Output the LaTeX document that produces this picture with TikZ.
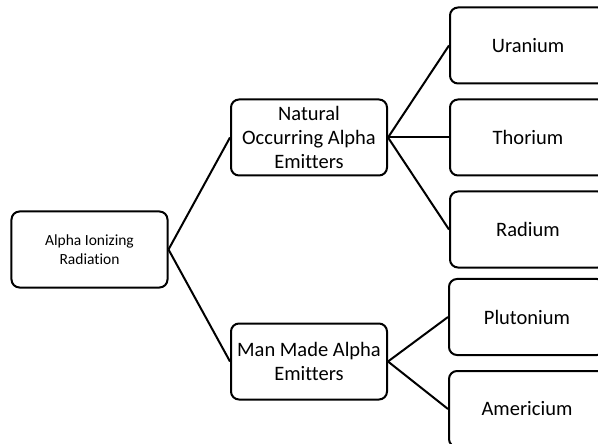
\documentclass[tikz,border=0pt]{standalone}
\usepackage{fontspec}
\setmainfont{Carlito}[Ligatures=CommonOff]
\usetikzlibrary{positioning}

\begin{document}
\begin{tikzpicture}[x=1bp,y=-1bp,
            boite/.style={draw=black, line width=2bp, rounded corners=8bp,
                minimum width=156bp, minimum height=76bp, align=center, inner sep=1bp},
            racine/.style={boite, font=\fontsize{15.5bp}{19bp}\selectfont},
            feuille/.style={boite, font=\fontsize{20.5bp}{24bp}\selectfont},
            lien/.style={draw=black, line width=2bp},
        ]
        \useasboundingbox (0,0) rectangle (598,444);
        % root and the two families
        \node[racine] (alpha) at (89.5,249.5) {Alpha Ionizing\\Radiation};
        \node[feuille] (nat) at (309,137.5) {Natural\\Occurring Alpha\\Emitters};
        \node[feuille] (man) at (309,361.5) {Man Made Alpha\\Emitters};
        % elements
        \node[feuille, right=61bp of nat] (tho) {Thorium};
        \node[feuille, above=14bp of tho] (ura) {Uranium};
        \node[feuille, below=14bp of tho] (rad) {Radium};
        \node[feuille] (plu) at (527,317) {Plutonium};
        \node[feuille, below=14bp of plu] (ame) {Americium};
        \draw[lien] (alpha.east) -- (nat.west);
        \draw[lien] (alpha.east) -- (man.west);
        \draw[lien] (nat.east) -- (ura.west);
        \draw[lien] (nat.east) -- (tho.west);
        \draw[lien] (nat.east) -- (rad.west);
        \draw[lien] (man.east) -- (plu.west);
        \draw[lien] (man.east) -- (ame.west);
    \end{tikzpicture}
\end{document}
